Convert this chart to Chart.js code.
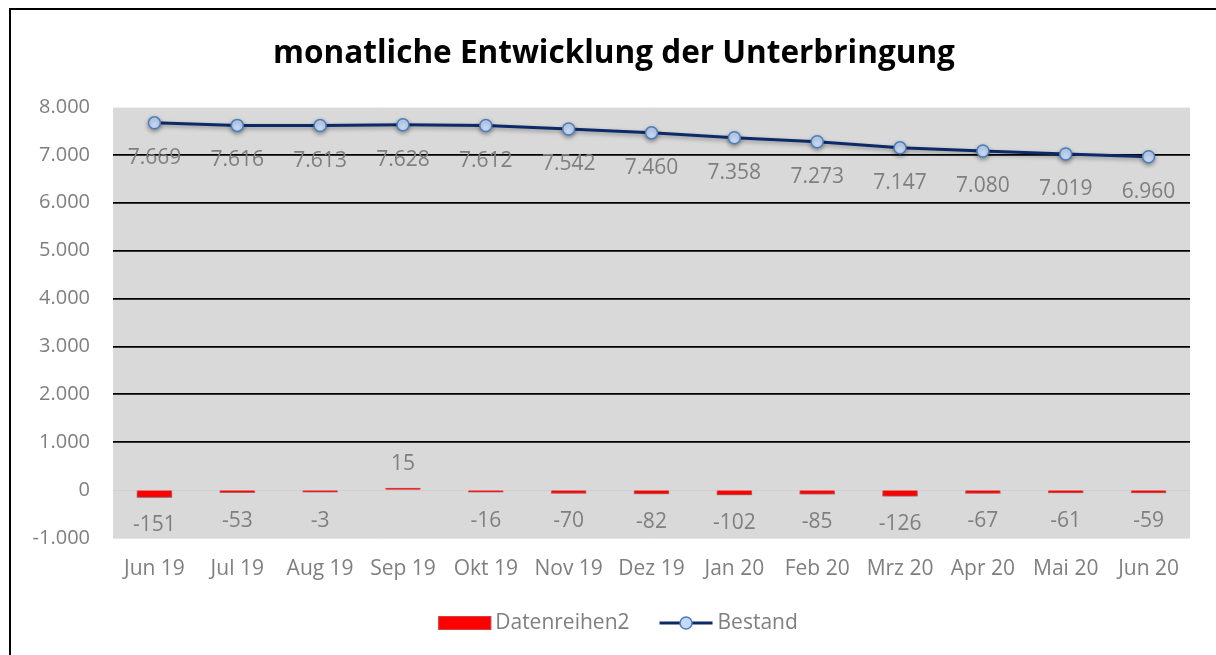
<!DOCTYPE html>
<html>
<head>
<meta charset="utf-8">
<script src="https://cdn.jsdelivr.net/npm/chart.js@4/dist/chart.umd.min.js"></script>
<style>
html,body{margin:0;padding:0;background:#fff;overflow:hidden;}
#wrap{position:absolute;left:0;top:0;width:1216px;height:655px;}
#frame{position:absolute;left:9px;top:8px;width:1300px;height:800px;border:2px solid #000;pointer-events:none;}
</style>
</head>
<body>
<div id="wrap"><canvas id="c" width="1216" height="655"></canvas></div>
<div id="frame"></div>
<script>
const categories = ['Jun 19','Jul 19','Aug 19','Sep 19','Okt 19','Nov 19','Dez 19','Jan 20','Feb 20','Mrz 20','Apr 20','Mai 20','Jun 20'];
const bestand = [7669,7616,7613,7628,7612,7542,7460,7358,7273,7147,7080,7019,6960];
const datenreihen2 = [-151,-53,-3,15,-16,-70,-82,-102,-85,-126,-67,-61,-59];
const yTicks = [-1000,0,1000,2000,3000,4000,5000,6000,7000,8000];
const titleText = 'monatliche Entwicklung der Unterbringung';
const seriesNames = ['Datenreihen2','Bestand'];

const GRAY = '#7f7f7f';
const FONT = '"Open Sans", "DejaVu Sans", sans-serif';
const NAVY = '#0d2a68';

function fmt(v){
  const neg = v < 0; let s = String(Math.abs(Math.round(v)));
  s = s.replace(/\B(?=(\d{3})+(?!\d))/g, '.');
  return (neg ? '-' : '') + s;
}

const bgPlugin = {
  id:'bg',
  beforeDraw(chart){
    const {ctx, chartArea:a} = chart;
    ctx.save(); ctx.fillStyle = '#d9d9d9';
    ctx.fillRect(a.left, a.top, a.right-a.left, a.bottom-a.top);
    ctx.restore();
  }
};
const shadowPlugin = {
  id:'shadow',
  beforeDatasetDraw(chart, args){
    const ctx = chart.ctx; ctx.save();
    if(args.index === 0){
      ctx.shadowColor = 'rgba(0,0,0,0.45)'; ctx.shadowBlur = 6; ctx.shadowOffsetY = 3;
    } else {
      ctx.shadowColor = 'rgba(0,0,0,0.35)'; ctx.shadowBlur = 4; ctx.shadowOffsetY = 2;
    }
  },
  afterDatasetDraw(chart){ chart.ctx.restore(); }
};
const labelPlugin = {
  id:'labels',
  afterDatasetsDraw(chart){
    const ctx = chart.ctx;
    ctx.save();
    ctx.font = '21px ' + FONT; ctx.fillStyle = GRAY;
    ctx.textAlign = 'center'; ctx.textBaseline = 'middle';
    const barMeta = chart.getDatasetMeta(0);
    barMeta.data.forEach((el,i)=>{
      const v = datenreihen2[i];
      let y;
      if (v < 0) y = Math.max(el.y, el.base + 2) + 28; else y = Math.min(el.y, el.base - 2) - 24;
      ctx.fillText(fmt(v), el.x, y);
    });
    const lineMeta = chart.getDatasetMeta(1);
    lineMeta.data.forEach((el,i)=>{
      ctx.fillText(fmt(bestand[i]), el.x, el.y + 35);
    });
    ctx.restore();
  }
};
const titleLegendPlugin = {
  id:'titleLegend',
  afterDraw(chart){
    const ctx = chart.ctx;
    ctx.save();
    ctx.fillStyle = '#000';
    ctx.font = 'bold 31.5px ' + FONT;
    ctx.textAlign = 'center'; ctx.textBaseline = 'middle';
    ctx.fillText(titleText, 614, 54);
    // legend
    ctx.font = '21px ' + FONT; ctx.textBaseline = 'middle'; ctx.textAlign = 'left';
    const ly = 623;
    const w1 = ctx.measureText(seriesNames[0]).width;
    const w2 = ctx.measureText(seriesNames[1]).width;
    const total = 53 + 4 + w1 + 30 + 53 + 5 + w2;
    let x = 618 - total/2;
    ctx.fillStyle = '#ff0000'; ctx.fillRect(x, ly-7, 53, 14);
    ctx.strokeStyle = 'rgba(200,80,80,0.8)'; ctx.lineWidth = 1; ctx.strokeRect(x+0.5, ly-6.5, 52, 13);
    x += 57;
    ctx.fillStyle = GRAY; ctx.fillText(seriesNames[0], x, ly);
    x += w1 + 30;
    ctx.strokeStyle = NAVY; ctx.lineWidth = 3;
    ctx.beginPath(); ctx.moveTo(x, ly); ctx.lineTo(x+53, ly); ctx.stroke();
    ctx.beginPath(); ctx.arc(x+26.5, ly, 6, 0, Math.PI*2);
    ctx.fillStyle = '#c6d9f7'; ctx.fill();
    ctx.strokeStyle = '#4a7ebb'; ctx.lineWidth = 1.5; ctx.stroke();
    x += 58;
    ctx.fillStyle = GRAY; ctx.fillText(seriesNames[1], x, ly);
    ctx.restore();
  }
};

new Chart(document.getElementById('c'), {
  data: {
    labels: categories,
    datasets: [
      { type:'bar', label: seriesNames[0], data: datenreihen2, backgroundColor:'#ff0000',
        borderColor:'rgba(205,90,90,0.9)', borderWidth:1, barThickness:35, minBarLength:2, order:2 },
      { type:'line', label: seriesNames[1], data: bestand, borderColor: NAVY, borderWidth:3,
        pointRadius:6, pointBackgroundColor:'#c6d9f7', pointBorderColor:'#4a7ebb', pointBorderWidth:1.5,
        tension:0, order:1 }
    ]
  },
  options: {
    responsive:false, animation:false, devicePixelRatio:1,
    layout:{ padding:{ top:107, right:26, bottom:0, left:0 } },
    plugins:{ legend:{display:false}, title:{display:false}, tooltip:{enabled:false} },
    scales:{
      x:{
        offset:true,
        grid:{ display:false, drawTicks:false },
        border:{ display:false },
        ticks:{ color:GRAY, font:{ family:FONT, size:21 }, padding:18, maxRotation:0, autoSkip:false },
        afterFit(s){ s.height = 117; }
      },
      y:{
        min:-1000, max:8000,
        afterBuildTicks(s){ s.ticks = yTicks.map(v=>({value:v})); },
        grid:{ drawTicks:false,
          color(c){ const v=c.tick.value; if(v===8000) return '#f0f0f0'; if(v===-1000) return '#e4e4e4'; if(v===0) return '#cfcfcf'; return '#000'; },
          lineWidth(c){ const v=c.tick.value; return (v===8000||v===-1000||v===0) ? 1 : 1.8; }
        },
        border:{ display:false },
        ticks:{ color:GRAY, font:{ family:FONT, size:20 }, padding:23, callback:(v)=>fmt(v) },
        afterFit(s){ s.width = 113; }
      }
    }
  },
  plugins:[bgPlugin, shadowPlugin, labelPlugin, titleLegendPlugin]
});
</script>
</body>
</html>
